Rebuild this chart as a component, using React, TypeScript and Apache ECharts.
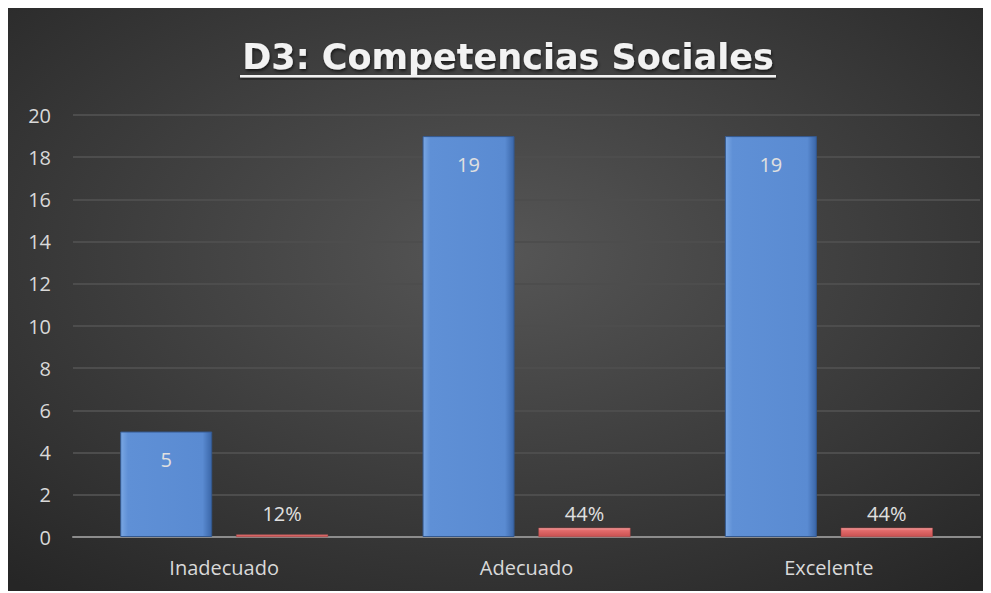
import React, { useEffect, useRef } from "react";
import * as echarts from "echarts";

const categories = ["Inadecuado", "Adecuado", "Excelente"];
const counts = [5, 19, 19];
const shares = [0.12, 0.44, 0.44];
const shareLabels = ["12%", "44%", "44%"];
const yTicks = { min: 0, max: 20, interval: 2 };
const titleText = "D3: Competencias Sociales";

export default function App() {
  const ref = useRef<HTMLDivElement>(null);
  useEffect(() => {
    if (!ref.current) return;
    const chart = echarts.init(ref.current, null, { renderer: "svg" });
    const blue = new echarts.graphic.LinearGradient(0, 0, 1, 0, [
      { offset: 0, color: "#7aa7e3" },
      { offset: 0.08, color: "#5f90d6" },
      { offset: 0.9, color: "#5a8bd2" },
      { offset: 1, color: "#3a66a8" },
    ]);
    const red = new echarts.graphic.LinearGradient(0, 0, 0, 1, [
      { offset: 0, color: "#f2a0a0" },
      { offset: 0.3, color: "#e26b6b" },
      { offset: 1, color: "#c85050" },
    ]);
    const font = "'Open Sans', sans-serif";
    chart.setOption({
      animation: false,
      backgroundColor: new echarts.graphic.RadialGradient(0.5, 0.42, 0.75, [
        { offset: 0, color: "#565656" },
        { offset: 1, color: "#262626" },
      ]),
      graphic: [
        {
          type: "text",
          z: 100,
          x: 500,
          y: 66,
          style: {
            text: titleText,
            font: "bold 35px 'DejaVu Sans', sans-serif",
            fill: "#f2f2f2",
            textAlign: "center",
            textVerticalAlign: "bottom",
            textShadowColor: "rgba(0,0,0,0.6)",
            textShadowBlur: 3,
            textShadowOffsetX: 1,
            textShadowOffsetY: 2,
          },
        },
        {
          type: "rect",
          z: 100,
          shape: { x: 232, y: 67, width: 536, height: 2.5 },
          style: { fill: "#f2f2f2", shadowColor: "rgba(0,0,0,0.6)", shadowBlur: 3, shadowOffsetY: 2 },
        },
      ],
      grid: { left: 65, right: 8, top: 107, bottom: 54 },
      xAxis: {
        type: "category",
        data: categories,
        axisLine: { lineStyle: { color: "#8c8c8c", width: 2 } },
        axisTick: { show: false },
        axisLabel: { color: "#d9d9d9", fontSize: 20, margin: 20, fontFamily: font },
      },
      yAxis: {
        type: "value",
        min: yTicks.min,
        max: yTicks.max,
        interval: yTicks.interval,
        axisLine: { show: false },
        axisTick: { show: false },
        axisLabel: { color: "#d9d9d9", fontSize: 20, margin: 22, fontFamily: font },
        splitLine: { lineStyle: { color: "#4d4d4d", width: 2 } },
      },
      series: [
        {
          type: "bar",
          data: counts,
          barWidth: 92,
          barGap: "26%",
          itemStyle: { color: blue, borderColor: "#34598f", borderWidth: 1 },
          label: {
            show: true,
            position: "insideTop",
            distance: 18,
            color: "#e0e0e0",
            fontSize: 20,
            fontFamily: font,
          },
        },
        {
          type: "bar",
          data: shares,
          barWidth: 92,
          itemStyle: { color: red, borderColor: "#a84444", borderWidth: 0.5 },
          label: {
            show: true,
            position: "insideBottom",
            distance: 14,
            color: "#e0e0e0",
            fontSize: 20,
            fontFamily: font,
            formatter: (p: any) => shareLabels[p.dataIndex],
          },
        },
      ],
    });
    return () => chart.dispose();
  }, []);
  return <div ref={ref} style={{ width: 980, height: 583 }} />;
}
